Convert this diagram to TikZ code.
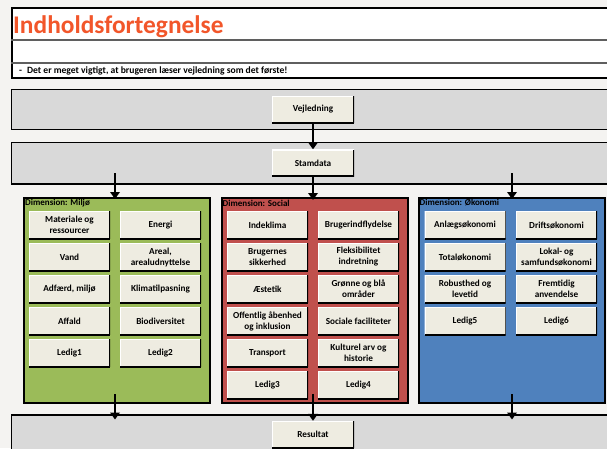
\documentclass[tikz,border=0pt]{standalone}
\usepackage{fontspec}
\setmainfont{Carlito}
\usetikzlibrary{arrows.meta}
\definecolor{bg}{RGB}{244,243,241}
\definecolor{beige}{RGB}{238,236,225}
\definecolor{bandgrey}{RGB}{217,217,217}
\definecolor{miljo}{RGB}{155,187,89}
\definecolor{social}{RGB}{192,80,77}
\definecolor{oekonomi}{RGB}{79,129,189}
\definecolor{titlered}{RGB}{242,86,42}
\definecolor{rulegrey}{RGB}{95,95,95}
\definecolor{shade}{RGB}{150,148,135}
\begin{document}
\begin{tikzpicture}[x=1pt,y=-1pt,
 band/.style={draw=black,line width=1.8pt,fill=bandgrey,anchor=north west,minimum width=610pt,inner sep=0pt},
 dimbox/.style={draw=black,line width=2pt,fill=#1,anchor=north west,minimum width=186pt,minimum height=205pt,inner sep=0pt},
 cell/.style={fill=beige,minimum width=81pt,minimum height=28pt,inner sep=1pt,align=center,
   font=\fontsize{9.2}{11}\selectfont\bfseries,
   path picture={
     \draw[white,line width=2pt] (path picture bounding box.south west) -- (path picture bounding box.north west) -- (path picture bounding box.north east);
     \draw[shade,line width=2pt] (path picture bounding box.north east) -- (path picture bounding box.south east);
     \draw[black,line width=2.4pt] (path picture bounding box.south west) -- (path picture bounding box.south east);
   }},
 stage/.style={cell,minimum width=82pt,minimum height=27pt},
 arr/.style={line width=2.6pt,-{Triangle[width=9.5pt,length=7pt]}},
 dimlabel/.style={anchor=west,inner sep=0pt,font=\fontsize{9}{10}\selectfont\bfseries}
]
\useasboundingbox (0,0) rectangle (607,448);
\clip (0,0) rectangle (607,448);
\fill[bg] (0,0) rectangle (607,448);

% header
\node[draw=black,line width=2pt,fill=white,anchor=north west,minimum width=610pt,minimum height=70pt,inner sep=0pt] (header) at (10.5,7) {};
\draw[rulegrey,line width=1.6pt] (10.5,40) -- (620,40);
\draw[rulegrey,line width=1.6pt] (10.5,63) -- (620,63);
\node[anchor=base west,text=titlered,font=\fontsize{25.4}{30}\selectfont\bfseries,inner sep=0pt] (title) at (13,33.5) {Indholdsfortegnelse};
\node[anchor=west,inner sep=0pt,font=\fontsize{9.6}{11}\selectfont\bfseries] (note) at (19,70.5) {-\hspace{5pt}Det er meget vigtigt, at brugeren læser vejledning som det første!};

% bands
\node[band,minimum height=40pt] (bandV) at (10.5,88.5) {};
\node[band,minimum height=41.5pt] (bandS) at (10.5,141.5) {};
\node[band,minimum height=45pt] (bandR) at (10.5,414) {};

\node[stage] (vej) at (313,109.5) {Vejledning};
\node[stage] (stam) at (313,163) {Stamdata};
\node[stage] (res) at (313,434.5) {Resultat};

% dimension boxes
\node[dimbox=miljo] (miljo) at (22.5,196.5) {};
\node[dimbox=social] (social) at (220.5,196.5) {};
\node[dimbox=oekonomi] (oek) at (417.5,196.5) {};

\node[dimlabel] (lm) at (25,203) {Dimension: Miljø};
\node[dimlabel] (ls) at (222.5,203) {Dimension: Social};
\node[dimlabel] (lo) at (419.5,203) {Dimension: Økonomi};

% Miljø cells
\node[cell] (m1) at (69.5,225) {Materiale og\\ressourcer};
\node[cell] (m2) at (160.5,225) {Energi};
\node[cell] (m3) at (69.5,257) {Vand};
\node[cell] (m4) at (160.5,257) {Areal,\\arealudnyttelse};
\node[cell] (m5) at (69.5,289) {Adfærd, miljø};
\node[cell] (m6) at (160.5,289) {Klimatilpasning};
\node[cell] (m7) at (69.5,321) {Affald};
\node[cell] (m8) at (160.5,321) {Biodiversitet};
\node[cell] (m9) at (69.5,353) {Ledig1};
\node[cell] (m10) at (160.5,353) {Ledig2};

% Social cells
\node[cell] (s1) at (267.5,225) {Indeklima};
\node[cell] (s2) at (358.5,225) {Brugerindflydelse};
\node[cell] (s3) at (267.5,257) {Brugernes\\sikkerhed};
\node[cell] (s4) at (358.5,257) {Fleksibilitet\\indretning};
\node[cell] (s5) at (267.5,289) {Æstetik};
\node[cell] (s6) at (358.5,289) {Grønne og blå\\områder};
\node[cell] (s7) at (267.5,321) {Offentlig åbenhed\\og inklusion};
\node[cell] (s8) at (358.5,321) {Sociale faciliteter};
\node[cell] (s9) at (267.5,353) {Transport};
\node[cell] (s10) at (358.5,353) {Kulturel arv og\\historie};
\node[cell] (s11) at (267.5,385) {Ledig3};
\node[cell] (s12) at (358.5,385) {Ledig4};

% Økonomi cells
\node[cell] (o1) at (465,225) {Anlægsøkonomi};
\node[cell] (o2) at (556.5,225) {Driftsøkonomi};
\node[cell] (o3) at (465,257) {Totaløkonomi};
\node[cell] (o4) at (556.5,257) {Lokal- og\\samfundsøkonomi};
\node[cell] (o5) at (465,289) {Robusthed og\\levetid};
\node[cell] (o6) at (556.5,289) {Fremtidig\\anvendelse};
\node[cell] (o7) at (465,321) {Ledig5};
\node[cell] (o8) at (556.5,321) {Ledig6};

% arrows
\coordinate (sL) at (115,173);
\coordinate (sR) at (512,173);
\coordinate (bL) at (115,394);
\coordinate (bM) at (313,394);
\coordinate (bR) at (512,394);
\coordinate (tL) at (115,419.5);
\coordinate (tR) at (512,419.5);
\coordinate (tS) at (313,200);
\coordinate (tM) at (115,199);
\coordinate (tO) at (512,199);

\draw[arr] (vej.south) -- (stam.north);
\draw[arr] (stam.south) -- (tS);
\draw[arr] (sL) -- (tM);
\draw[arr] (sR) -- (tO);
\draw[arr] (bL) -- (tL);
\draw[arr] (bM) -- (res.north);
\draw[arr] (bR) -- (tR);
\end{tikzpicture}
\end{document}
